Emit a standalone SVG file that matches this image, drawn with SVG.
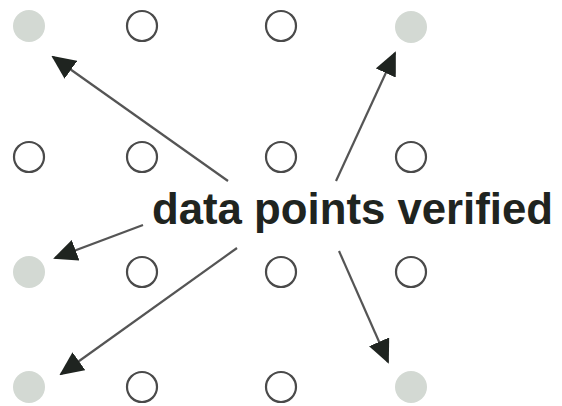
<svg xmlns="http://www.w3.org/2000/svg" width="562" height="406" viewBox="0 0 562 406">
  <style>
    .open { fill: #ffffff; stroke: #4a4a4a; stroke-width: 2.2; }
    .filled { fill: #d3d9d3; stroke: none; }
    .conn { stroke: #555555; stroke-width: 2.2; fill: none; marker-end: url(#head); }
    .label { font-family: "Liberation Sans", Arial, sans-serif; font-weight: bold; font-size: 43.5px; fill: #1f2420; }
  </style>
  <defs>
    <marker id="head" viewBox="0 0 24 22" refX="22" refY="11" markerWidth="24" markerHeight="22" markerUnits="userSpaceOnUse" orient="auto">
      <path d="M0,0 L24,11 L0,22 z" fill="#1f2420"/>
    </marker>
  </defs>
  <rect width="562" height="406" fill="#ffffff"/>

  <!-- grid of data points -->
  <g id="p00"><circle class="filled" cx="29" cy="26" r="16"/></g>
  <g id="p01"><circle class="open" cx="142" cy="26" r="15"/></g>
  <g id="p02"><circle class="open" cx="281" cy="26" r="15"/></g>
  <g id="p03"><circle class="filled" cx="411" cy="27" r="16"/></g>

  <g id="p10"><circle class="open" cx="29" cy="157" r="15"/></g>
  <g id="p11"><circle class="open" cx="142" cy="157" r="15"/></g>
  <g id="p12"><circle class="open" cx="281" cy="157" r="15"/></g>
  <g id="p13"><circle class="open" cx="411" cy="157" r="15"/></g>

  <g id="p20"><circle class="filled" cx="29" cy="272" r="16"/></g>
  <g id="p21"><circle class="open" cx="142" cy="272" r="15"/></g>
  <g id="p22"><circle class="open" cx="281" cy="272" r="15"/></g>
  <g id="p23"><circle class="open" cx="411" cy="272" r="15"/></g>

  <g id="p30"><circle class="filled" cx="29" cy="387" r="16"/></g>
  <g id="p31"><circle class="open" cx="142" cy="387" r="15"/></g>
  <g id="p32"><circle class="open" cx="281" cy="387" r="15"/></g>
  <g id="p33"><circle class="filled" cx="411" cy="387" r="16"/></g>

  <!-- caption -->
  <g id="caption">
    <text class="label" x="152" y="224" textLength="401" lengthAdjust="spacingAndGlyphs">data points verified</text>
  </g>

  <!-- arrows from the caption to the verified points -->
  <g id="connectors">
    <line class="conn" x1="228" y1="181" x2="53" y2="57"/>
    <line class="conn" x1="336" y1="181" x2="395" y2="53"/>
    <line class="conn" x1="143" y1="225" x2="55" y2="258"/>
    <line class="conn" x1="237" y1="248" x2="61" y2="374"/>
    <line class="conn" x1="339" y1="251" x2="388" y2="362"/>
  </g>
</svg>
